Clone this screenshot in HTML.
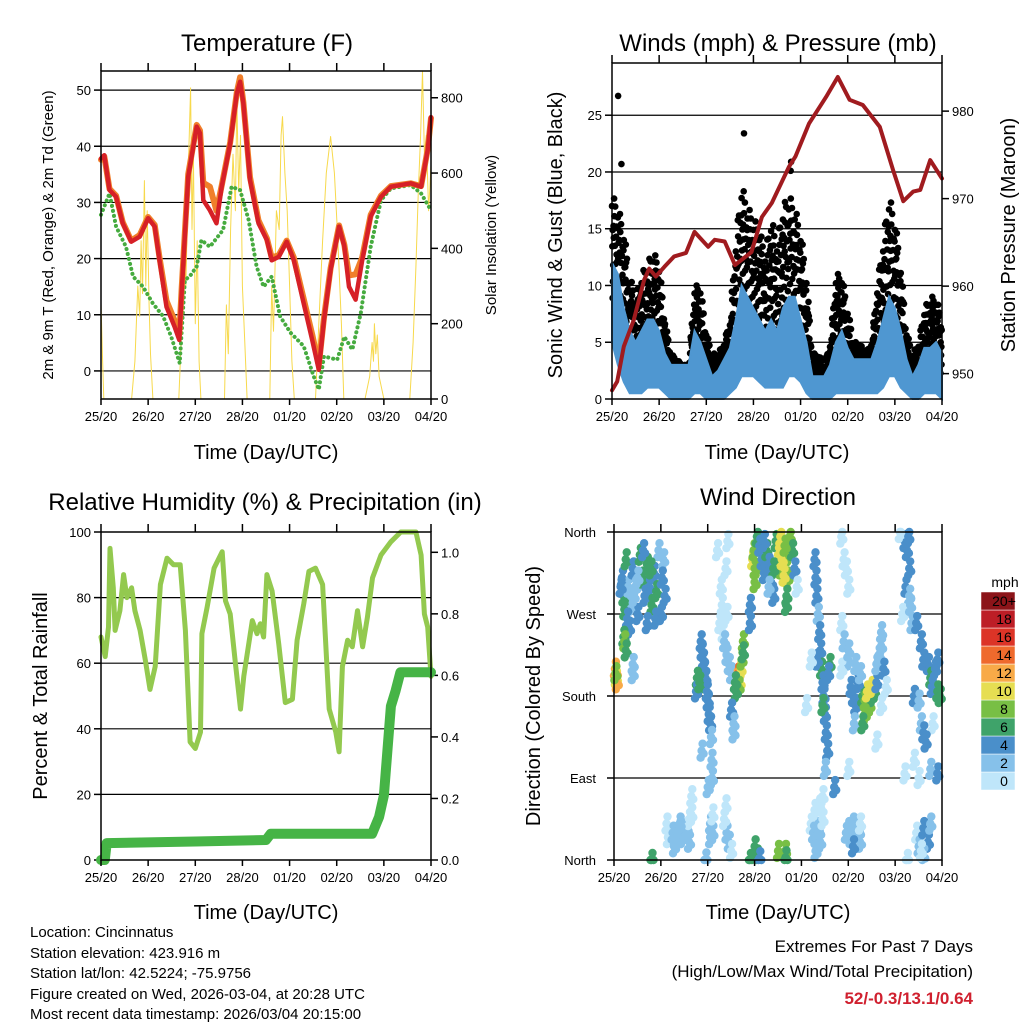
<!DOCTYPE html>
<html><head><meta charset="utf-8"><style>
html,body{margin:0;padding:0;background:#fff;}
svg{display:block;font-family:"Liberation Sans",sans-serif;}
</style></head><body>
<svg id="s" width="1024" height="1024" viewBox="0 0 1024 1024" xmlns="http://www.w3.org/2000/svg">
<rect x="0" y="0" width="1024" height="1024" fill="#fff"/>
<g font-size="24" text-anchor="middle" fill="#000">
<text x="267" y="51">Temperature (F)</text>
<text x="778" y="51">Winds (mph) &amp; Pressure (mb)</text>
<text x="265" y="510">Relative Humidity (%) &amp; Precipitation (in)</text>
<text x="778" y="505">Wind Direction</text>
</g>
<g font-size="20" text-anchor="middle">
<text x="266" y="459">Time (Day/UTC)</text>
<text x="777" y="459">Time (Day/UTC)</text>
<text x="266" y="919">Time (Day/UTC)</text>
<text x="778" y="919">Time (Day/UTC)</text>
<text transform="translate(562,235) rotate(-90)">Sonic Wind &amp; Gust (Blue, Black)</text>
<text transform="translate(1015,235) rotate(-90)">Station Pressure (Maroon)</text>
<text transform="translate(47,696) rotate(-90)">Percent &amp; Total Rainfall</text>
<text transform="translate(540,696) rotate(-90)">Direction (Colored By Speed)</text>
</g>
<g font-size="15" text-anchor="middle">
<text transform="translate(53,235) rotate(-90)">2m &amp; 9m T (Red, Orange) &amp; 2m Td (Green)</text>
<text transform="translate(496,235) rotate(-90)">Solar Insolation (Yellow)</text>
</g>
<g font-size="15">
<text x="30" y="937">Location: Cincinnatus</text>
<text x="30" y="958">Station elevation: 423.916 m</text>
<text x="30" y="978">Station lat/lon: 42.5224; -75.9756</text>
<text x="30" y="999">Figure created on Wed, 2026-03-04, at 20:28 UTC</text>
<text x="30" y="1019">Most recent data timestamp: 2026/03/04 20:15:00</text>
</g>
<g font-size="17" text-anchor="end">
<text x="973" y="952">Extremes For Past 7 Days</text>
<text x="973" y="977">(High/Low/Max Wind/Total Precipitation)</text>
<text x="973" y="1004" font-weight="bold" fill="#d0202f">52/-0.3/13.1/0.64</text>
</g>
<text x="1005" y="587" font-size="14" text-anchor="middle">mph</text>
</svg>
<script>
// ---------- DATA ----------
const dayLabels=["25/20","26/20","27/20","28/20","01/20","02/20","03/20","04/20"];
const tempTicks=[0,10,20,30,40,50];
const solarTicks=[0,200,400,600,800];
const speedTicks=[0,5,10,15,20,25];
const pressTicks=[950,960,970,980];
const rhTicks=[0,20,40,60,80,100];
const precipTicks=[0.0,0.2,0.4,0.6,0.8,1.0];
const precipTickLabels=["0.0","0.2","0.4","0.6","0.8","1.0"];
const dirTicks=[0,90,180,270,360];
const dirTickLabels=["North","East","South","West","North"];

const tempT=[0,0.07,0.18,0.32,0.46,0.64,0.82,1.0,1.14,1.24,1.39,1.56,1.66,1.71,1.85,2.03,2.1,2.17,2.31,2.45,2.56,2.74,2.88,2.95,3.02,3.16,3.34,3.52,3.62,3.77,3.94,4.09,4.3,4.48,4.62,4.73,4.87,5.05,5.16,5.26,5.4,5.54,5.72,5.94,6.15,6.57,6.79,6.93,7.0];
const tempV=[37.8,38.4,32.2,31.0,26.3,23.0,23.9,27.2,25.7,19.7,11.4,7.9,5.5,13.8,34.6,43.5,42.3,30.4,28.6,26.3,32.8,40.5,49.4,51.5,47.6,34.0,26.3,23.3,19.7,20.3,23.0,19.7,12.0,5.5,0.2,9.1,18.0,25.7,22.2,15.0,12.7,19.7,27.5,31.0,32.8,33.4,32.8,39.3,45.2];
const temp9V=[37.6,38.2,32.4,31.2,26.5,23.2,24.2,27.4,26.0,20.2,12.5,9.0,6.5,14.5,35.0,43.8,42.8,33.5,32.8,28.5,33.0,40.7,49.6,52.3,47.8,34.5,26.8,23.6,20.2,20.6,23.2,20.2,12.8,6.5,1.0,9.5,18.3,25.9,22.5,17.0,17.2,20.2,27.8,31.2,32.9,33.4,32.9,39.5,45.0];
const dewT=[0,0.18,0.32,0.53,0.68,0.89,1.1,1.32,1.49,1.67,1.78,1.88,2.03,2.13,2.31,2.59,2.77,2.95,3.13,3.3,3.45,3.62,3.8,4.02,4.3,4.51,4.62,4.73,5.01,5.16,5.33,5.51,5.72,5.94,6.15,6.57,6.79,7.0];
const dewV=[27.8,31.6,25.7,22.1,16.8,15.0,12.0,9.7,6.1,1.4,16.2,16.8,18.6,23.3,22.1,25.1,32.8,32.2,26.9,18.6,15.0,16.8,9.7,6.8,4.4,-0.9,-3.3,2.6,2.0,6.1,3.8,10.3,22.1,30.4,32.5,33.1,31.6,28.6];
const solarT=[0,0.03,0.06,0.65,0.72,0.78,0.82,0.85,0.88,0.92,0.95,0.98,1.02,1.05,1.1,1.65,1.7,1.75,1.8,1.85,1.9,1.93,1.96,2.0,2.04,2.08,2.12,2.62,2.66,2.7,2.75,2.8,2.85,2.88,2.92,2.96,3.0,3.05,3.1,3.58,3.62,3.66,3.72,3.78,3.82,3.85,3.9,3.95,4.0,4.05,4.1,4.55,4.62,4.7,4.78,4.87,4.95,5.02,5.1,5.15,5.6,5.7,5.75,5.78,5.8,5.83,5.86,5.9,5.95,6.0,6.55,6.62,6.68,6.73,6.78,6.82,6.86,6.9,6.95,7.0];
const solarV=[255,120,0,0,100,300,220,420,280,580,300,500,250,120,0,0,150,400,300,600,826,450,650,200,420,100,0,0,250,120,450,650,500,800,550,700,300,150,0,0,300,180,500,450,700,750,600,500,300,100,0,0,200,420,600,697,600,430,200,0,0,60,150,100,200,120,170,60,30,0,0,150,350,550,700,871,650,700,500,620];

const windT=[0,0.125,0.25,0.375,0.5,0.625,0.75,0.875,1,1.125,1.25,1.375,1.5,1.625,1.75,1.875,2,2.125,2.25,2.375,2.5,2.625,2.75,2.875,3,3.125,3.25,3.375,3.5,3.625,3.75,3.875,4,4.125,4.25,4.375,4.5,4.625,4.75,4.875,5,5.125,5.25,5.375,5.5,5.625,5.75,5.875,6,6.125,6.25,6.375,6.5,6.625,6.75,6.875,7];
const windHi=[12,11,8,6,5,6,7,7,6,4,3,3,3,3,6,5,3.5,2,2.5,3.5,4.5,7,10,9,8,7,6,7,6,8,9,9,7,5,2,2,2,3,5,6,4.5,3.5,3.5,3.5,3.5,5,7,9,8,6,3.5,2,3,4.5,4.5,5,4];
const windLo=[5,3,1.5,0.5,0.5,0.5,1,1,1,0.5,0,0,0,0,0.5,0.5,0,0,0,0,0.5,1,2,2,2,1.5,1,1,1,1,2,2,1.5,0.5,0,0,0,0,0.5,0.5,0.5,0.5,0.5,0.5,0.5,0.5,1,2,2,1,0.5,0,0,0.5,0.5,0.5,0];
const gustHi=[18,17,15,11,9,11,12,13,12,7,4,3.5,3,3,10,10,6,4,4,5,7,14,19,17,16,15,13,16,14,17,18,17,15,11,4,4,3,5,11,11,8,5,5,4,5,10,14,18,16,12,6,4,5,8,9,9,7];
const gustLo=[8,7,5,3,3,3,4,4,4,3,2,2,1.5,1.5,3,3,2,1,1.5,2,2,4,6,6,5,5,4,4,4,5,5,5,4,3,1,1,1,1,3,3,3,2,2,2,2,3,4,5,5,3,2,1,1,2,2,2,2];
const gustOutT=[0.13,0.2,2.8,3.8,3.79];
const gustOutV=[26.7,20.7,23.4,20.9,20.1];
const pressT=[0,0.11,0.25,0.46,0.68,0.79,0.93,1.11,1.32,1.57,1.75,2.04,2.18,2.39,2.61,2.96,3.18,3.39,3.75,3.89,4.18,4.54,4.79,5.04,5.32,5.68,5.96,6.18,6.39,6.54,6.75,7.0];
const pressV=[948.1,949.1,953.1,956.1,960.7,962.0,961.1,962.2,963.4,963.8,966.2,964.5,965.3,965.1,962.4,963.9,967.9,969.5,973.6,974.8,978.6,981.6,983.9,981.3,980.7,978.2,973.3,969.7,970.8,971.0,974.4,972.3];

const rhT=[0,0.09,0.16,0.19,0.26,0.3,0.4,0.48,0.55,0.65,0.72,0.83,0.94,1.04,1.15,1.26,1.4,1.54,1.68,1.79,1.89,2.0,2.11,2.14,2.25,2.4,2.57,2.64,2.74,2.85,2.96,3.03,3.21,3.31,3.38,3.45,3.52,3.63,3.77,3.91,4.06,4.16,4.3,4.41,4.55,4.7,4.84,4.98,5.05,5.12,5.23,5.33,5.44,5.55,5.65,5.76,5.94,6.15,6.36,6.68,6.79,6.86,6.93,7.0];
const rhV=[68,62,71,95,83,70,76,87,80,83,76,70,61,52,59,84,92,90,90,70,36,34,39,69,77,89,94,79,75,60,46,56,73,69,72,68,87,82,66,48,49,67,78,88,89,84,46,39,33,59,67,65,76,65,74,86,93,97,100,100,93,75,71,56];
const precipT=[0,0.08,0.12,2.0,3.5,3.6,5.75,5.9,6.0,6.15,6.25,6.35,7.0];
const precipV=[0,0,0.055,0.06,0.065,0.085,0.085,0.14,0.21,0.5,0.55,0.61,0.61];

const legendLabels=["0","2","4","6","8","10","12","14","16","18","20+"];
const legendColors=["#bfe6fa","#86c1ea","#4a8fca","#3fa36a","#78bf45","#e6de52","#f8aa48","#ef6a2d","#dc3427","#bd1e26","#8c1419"];
// wind direction points: [day, degrees, mph]
const dirPts=[[0.17,310,4],[0.2,290,6],[0.25,330,6],[0.3,300,2],[0.35,280,3],[0.4,320,4],[0.45,300,2],[0.5,270,4],[0.55,335,6],[0.6,310,6],[0.65,290,4],[0.7,325,6],[0.75,300,5],[0.8,280,7],[0.85,315,4],[0.9,295,6],[0.95,340,3],[1.0,270,4],[1.05,330,2],[1.08,290,4],[0.22,275,7],[0.28,265,5],[0.32,255,5],[0.62,340,4],[0.78,320,6],[0.88,265,4],[0.42,290,2],[0.2,245,7],[0.22,240,9],[0.25,230,6],[0.14,300,4],[0.5,310,2],[0.7,260,4],[1.02,310,4],
[0.02,210,12],[0.04,200,10],[0.06,195,12],[0.03,205,9],[0.4,215,2],[0.4,205,2],[0.8,0,7],
[1.85,240,4],[1.87,230,4],[1.9,220,4],[1.92,210,4],[1.95,200,4],[1.77,200,6],[1.8,190,6],[1.75,185,5],[1.82,195,6],[1.98,185,4],[2.0,175,4],[2.02,160,4],[2.05,150,4],[2.07,135,3],[2.08,110,2],[2.09,90,3],[1.87,120,2],[2.0,80,2],[1.95,0.5,2],
[1.12,40,0],[1.15,25,1],[1.25,30,2],[1.3,25,2],[1.35,30,2],[1.4,35,2],[1.45,25,2],[1.5,30,2],[1.55,35,2],[1.6,20,2],[1.6,45,1],[1.65,50,0],[1.65,70,0],[1.4,40,2],[1.28,15,2],
[2.05,40,3],[2.1,30,2],[2.05,25,3],[2.1,50,1],[2.4,30,2],[2.45,20,2],[2.35,45,0],[2.38,60,0],[2.5,10,1],
[2.2,340,0],[2.25,260,1],[2.28,300,0],[2.3,280,0],[2.32,250,1],[2.35,240,2],[2.4,225,2],[2.45,215,2],[2.5,205,3],[2.38,320,0],[2.42,350,0],[2.4,270,0],
[2.62,200,12],[2.65,205,14],[2.68,195,10],[2.7,210,10],[2.72,220,8],[2.66,190,8],[2.6,185,6],[2.58,195,6],[2.75,240,8],[2.75,228,6],
[2.5,165,4],[2.55,150,2],[2.55,140,2],[2.9,280,4],[2.9,260,4],[2.9,0,6],[3.05,5,6],[3.0,15,6],[3.1,2,4],
[2.95,330,10],[2.98,340,8],[3.0,320,8],[3.05,355,6],[3.1,345,4],[3.15,330,4],[3.2,315,4],[3.25,340,6],[3.3,325,4],[3.35,305,4],[3.4,290,4],[3.45,350,6],[3.5,335,10],[3.55,320,8],[3.6,345,10],[3.65,330,8],[3.7,310,8],[3.75,355,8],[3.8,340,6],[3.85,320,4],[3.55,355,10],[3.62,312,10],[3.4,320,6],[3.2,350,4],[3.0,305,8],[3.68,290,6],[3.67,280,6],[3.9,300,0],[3.3,300,2],[3.58,330,10],[3.64,345,8],
[3.5,10,8],[3.65,10,8],[3.66,3,6],
[4.28,330,4],[4.3,310,4],[4.32,290,4],[4.35,270,2],[4.38,250,4],[4.4,230,4],[4.42,210,6],[4.45,195,4],[4.47,180,4],[4.5,160,4],[4.52,140,4],[4.55,120,4],[4.5,100,2],[4.45,170,6],[4.33,220,4],[4.6,215,6],[4.57,205,4],[4.2,220,0],[4.1,170,0],[4.45,70,1],[4.7,80,4],
[4.2,40,0],[4.25,30,2],[4.3,25,2],[4.35,35,2],[4.4,20,2],[4.45,45,0],[4.28,55,0],[4.38,60,0],[4.3,10,2],
[4.85,355,0],[4.9,330,0],[4.95,320,0],[5.0,300,0],[4.85,260,0],[4.9,240,2],[5.0,220,2],[5.05,190,4],[5.1,180,4],[5.15,170,4],[5.12,150,2],[5.0,100,0],[4.85,210,0],
[4.95,30,2],[5.0,35,2],[5.05,25,2],[5.1,40,2],[5.15,30,2],[5.2,35,2],[5.25,20,2],[5.1,15,4],[5.25,40,1],
[5.3,180,6],[5.35,175,8],[5.4,165,8],[5.45,170,8],[5.5,180,6],[5.55,185,6],[5.35,160,8],[5.3,150,6],[5.4,185,10],[5.5,190,10],[5.6,195,4],[5.2,195,4],[5.25,205,2],[5.15,215,2],[5.6,215,2],[5.65,225,2],[5.7,235,2],[5.7,250,2],[5.75,210,4],[5.8,190,0],[5.7,170,0],[5.6,130,0],[5.0,230,2],
[6.2,350,4],[6.25,340,4],[6.3,320,4],[6.22,300,4],[6.3,290,2],[6.35,260,2],[6.15,270,0],[6.1,360,0],[6.28,355,4],[6.32,280,2],[6.45,260,4],[6.55,240,4],[6.6,220,4],[6.7,215,4],[6.75,200,6],[6.78,190,4],[6.85,210,4],[6.9,185,6],[6.9,220,4],[6.8,150,0],[6.95,180,6],[6.4,180,4],[6.5,175,2],[6.55,150,2],[6.6,140,4],[6.65,130,4],[6.75,100,2],[6.9,95,4],[6.4,110,0],[6.5,90,0],[6.45,30,0],[6.5,15,2],[6.6,35,4],[6.7,20,4],[6.6,5,2],[6.55,10,0],[6.75,40,2],[6.2,95,0],[6.25,0,0]];

// ---------- DRAW ----------
const NS="http://www.w3.org/2000/svg";
const svg=document.getElementById('s');
function mk(tag,parent){const e=document.createElementNS(NS,tag);(parent||svg).appendChild(e);return e;}
function lin(d0,d1,r0,r1){return v=>r0+(v-d0)*(r1-r0)/(d1-d0);}

const P1={x0:101,x1:431,y0:71,y1:399}, P2={x0:612,x1:942,y0:63,y1:399}, P3={x0:101,x1:431,y0:532,y1:860}, P4={x0:614,x1:942,y0:532,y1:860};
const x1s=lin(0,7,P1.x0,P1.x1), x2s=lin(0,7,P2.x0,P2.x1), x3s=lin(0,7,P3.x0,P3.x1), x4s=lin(0,7,P4.x0,P4.x1);
const yT=lin(-5,53.4,399,71), ySol=lin(0,871,399,71);
const ySp=lin(0,29.6,399,63), yP=lin(947.1,985.5,399,63);
const yRH=lin(0,100,860,532), yPr=lin(0,1.066,860,532);
const yD=lin(0,360,860,532);

function line(x1,y1,x2,y2,stroke,w,name){const l=mk('line');l.setAttribute('x1',x1);l.setAttribute('y1',y1);l.setAttribute('x2',x2);l.setAttribute('y2',y2);l.setAttribute('stroke',stroke);l.setAttribute('stroke-width',w);


return l;}
function text(x,y,s,anchor,size,name){const t=mk('text');t.setAttribute('x',x);t.setAttribute('y',y);t.setAttribute('text-anchor',anchor);t.setAttribute('font-size',size);t.textContent=s;


return t;}
function path(ts,vs,xs,ys,stroke,w,name,extra){let d='';for(let i=0;i<ts.length;i++){d+=(i?'L':'M')+xs(ts[i]).toFixed(1)+','+ys(vs[i]).toFixed(1);}const p=mk('path');p.setAttribute('d',d);p.setAttribute('fill','none');p.setAttribute('stroke',stroke);p.setAttribute('stroke-width',w);p.setAttribute('stroke-linejoin','round');p.setAttribute('stroke-linecap','round');if(extra)p.setAttribute('stroke-dasharray',extra);


return p;}

function frame(P,xs,pref){
  const r=mk('rect');r.setAttribute('x',P.x0);r.setAttribute('y',P.y0);r.setAttribute('width',P.x1-P.x0);r.setAttribute('height',P.y1-P.y0);r.setAttribute('fill','none');r.setAttribute('stroke','#000');r.setAttribute('stroke-width','1.5');
  
  
  for(let i=0;i<dayLabels.length;i++){const x=xs(i);
    line(x,P.y1,x,P.y1+6,'#000',1.5,pref+'-x-tick');
    line(x,P.y0,x,P.y0-8,'#000',1.5,pref+'-x-tick-top');
    text(x,P.y1+22,dayLabels[i],'middle',13,pref+'-x-tick-label');}
}
function yAxis(P,ticks,labels,ys,side,pref,grid){
  for(let i=0;i<ticks.length;i++){const y=ys(ticks[i]);
    if(side==='left'){line(P.x0-7,y,P.x0,y,'#000',1.5,pref+'-y-tick');text(P.x0-10,y+5,labels[i],'end',13,pref+'-y-tick-label');}
    else{line(P.x1,y,P.x1+7,y,'#000',1.5,pref+'-y2-tick');text(P.x1+10,y+5,labels[i],'start',13,pref+'-y2-tick-label');}
    if(grid&&y>P.y0+1&&y<P.y1-1)line(P.x0,y,P.x1,y,'#000',1.2,pref+'-gridline');}
}

// Panel 1: temperature
yAxis(P1,tempTicks,tempTicks.map(String),yT,'left','temp',true);
yAxis(P1,solarTicks,solarTicks.map(String),ySol,'right','solar',false);
path(solarT,solarV,x1s,ySol,'#f7d94c',1,'solar-insolation-line');
path(dewT,dewV,x1s,yT,'#46ab3f',4,'dewpoint-line','0.1 5');
path(tempT,temp9V,x1s,yT,'#f07f2a',6,'temp-9m-line');
path(tempT,tempV,x1s,yT,'#d62027',4.5,'temp-2m-line');
frame(P1,x1s,'temp');

// Panel 2: winds
yAxis(P2,speedTicks,speedTicks.map(String),ySp,'left','wind',true);
yAxis(P2,pressTicks,pressTicks.map(String),yP,'right','pressure',false);
{const g=mk('g');g.setAttribute('fill','#000');
 
 
 const fr=[[0.0,0.9],[0.2,0.4],[0.35,1.0],[0.5,0.6],[0.65,0.2],[0.8,0.8],[0.1,0.1],[0.45,0.3],[0.9,0.5],[0.7,0.7],[0.25,0.75],[0.55,0.95],[0.05,0.55],[0.15,0.25],[0.3,0.65],[0.4,0.85],[0.6,0.45],[0.75,0.05],[0.85,0.35],[0.95,0.8],[0.12,0.7],[0.58,0.15],[0.78,0.55],[0.92,0.2]];
 for(let i=0;i<windT.length-1;i++){for(const f of fr){const t=windT[i]+f[0]*(windT[i+1]-windT[i]);const hi=gustHi[i]+f[0]*(gustHi[i+1]-gustHi[i]);const lo=gustLo[i]+f[0]*(gustLo[i+1]-gustLo[i]);const v=lo+f[1]*(hi-lo);
  const c=mk('circle',g);c.setAttribute('cx',x2s(t).toFixed(1));c.setAttribute('cy',ySp(v).toFixed(1));c.setAttribute('r',3.3);
  
  }}
 for(let i=0;i<gustOutT.length;i++){const c=mk('circle',g);c.setAttribute('cx',x2s(gustOutT[i]));c.setAttribute('cy',ySp(gustOutV[i]));c.setAttribute('r',3.3);
  
  }
}
{let d='';for(let i=0;i<windT.length;i++)d+=(i?'L':'M')+x2s(windT[i]).toFixed(1)+','+ySp(windHi[i]).toFixed(1);
 for(let i=windT.length-1;i>=0;i--)d+='L'+x2s(windT[i]).toFixed(1)+','+ySp(windLo[i]).toFixed(1);
 const p=mk('path');p.setAttribute('d',d+'Z');p.setAttribute('fill','#4f97d1');p.setAttribute('stroke','#4f97d1');p.setAttribute('stroke-width','2');
 
 }
path(pressT,pressV,x2s,yP,'#a01b1f',4,'pressure-line');
frame(P2,x2s,'wind');

// Panel 3: RH and precip
yAxis(P3,rhTicks,rhTicks.map(String),yRH,'left','rh',true);
yAxis(P3,precipTicks,precipTickLabels,yPr,'right','precip',false);
path(rhT,rhV,x3s,yRH,'#93c94f',5,'rh-line');
path(precipT,precipV,x3s,yPr,'#46b446',10,'precip-line');
frame(P3,x3s,'rh');

// Panel 4: wind direction
for(let i=0;i<dirTicks.length;i++){const y=yD(dirTicks[i]);line(P4.x0-7,y,P4.x0,y,'#000',1.5,'dir-y-tick');text(P4.x0-18,y+5,dirTickLabels[i],'end',13,'dir-y-tick-label');
 if(i>0&&i<dirTicks.length-1)line(P4.x0,y,P4.x1,y,'#000',1.2,'dir-gridline');}
function binColor(s){let k=Math.floor(s/2);if(k<0)k=0;if(k>10)k=10;return legendColors[k];}
{const g=mk('g');
 
 const offs=[[0,0],[1,-7],[-1,7],[2,3]];
 for(const p of dirPts){for(const o of offs){const cy=Math.min(P4.y1,Math.max(P4.y0,yD(p[1])+o[1]));const c=mk('circle',g);c.setAttribute('cx',(x4s(p[0])+o[0]).toFixed(1));c.setAttribute('cy',cy.toFixed(1));c.setAttribute('r',4.2);c.setAttribute('fill',binColor(p[2]));
  
  }}}
frame(P4,x4s,'dir');

// Legend
for(let i=0;i<legendLabels.length;i++){const y=790-(i+1)*18;const r=mk('rect');r.setAttribute('x',981);r.setAttribute('y',y);r.setAttribute('width',34);r.setAttribute('height',18);r.setAttribute('fill',legendColors[i]);r.setAttribute('stroke','#fff');r.setAttribute('stroke-width','0.5');
 
 
 text(1004,y+14,legendLabels[i],'middle',14,'legend-label');}
</script>
</body></html>
